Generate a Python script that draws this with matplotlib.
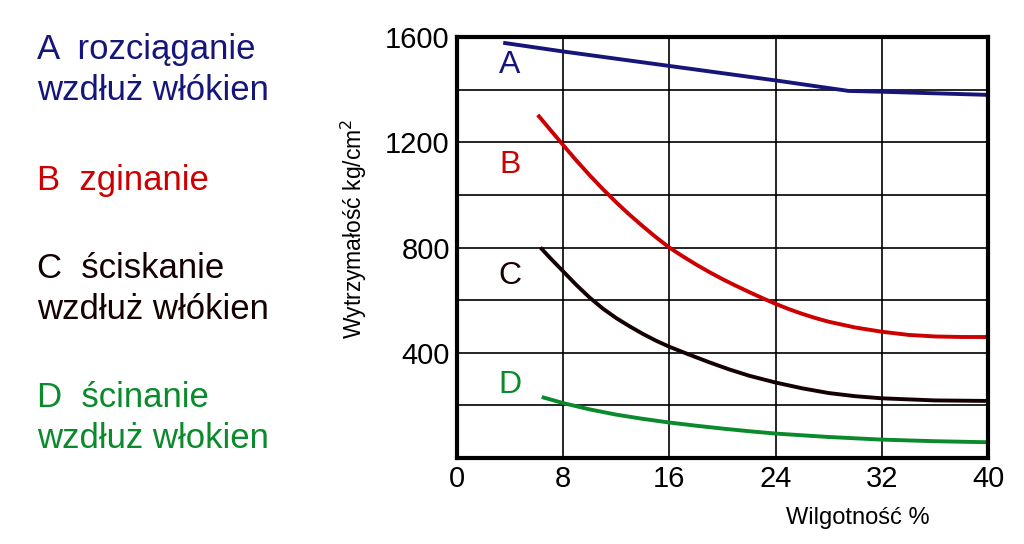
import matplotlib.pyplot as plt

plt.rcParams['font.family'] = ['Liberation Sans', 'DejaVu Sans']

# wilgotność [%] i wytrzymałość [kg/cm2]
xa = [3.5, 8, 16, 24, 29.5, 32, 36, 40]
ya = [1578, 1545, 1490, 1435, 1395, 1392, 1386, 1380]

xb = [6.1, 7, 8, 9, 10, 11, 12, 13, 14, 15, 16, 17, 18, 19, 20, 21, 22, 23, 24,
      25, 26, 27, 28, 30, 32, 34, 36, 38, 40]
yb = [1304, 1250, 1190, 1131, 1075, 1022, 972, 925, 881, 839, 800, 767, 736, 707,
      680, 655, 631, 608, 586, 566, 548, 532, 518, 496, 480, 468, 462, 460, 460]

xc = [6.3, 7, 8, 9, 10, 11, 12, 13, 14, 15, 16, 17.5, 19, 20.5, 22, 24, 26, 28,
      30, 32, 36, 40]
yc = [800, 762, 710, 658, 610, 568, 532, 501, 472, 446, 423, 393, 364, 337, 313,
      287, 265, 247, 235, 227, 219, 217]

xd = [6.4, 8, 10, 12, 14, 16, 18, 20, 22, 24, 28, 32, 36, 40]
yd = [232, 209, 185, 165, 149, 135, 123, 112, 102, 93, 80, 70, 64, 60]

series = [
    ('A', xa, ya, '#16167a', 1494, 'A  rozciąganie\nwzdłuż włókien', 0.871),
    ('B', xb, yb, '#cc0000', 1114, 'B  zginanie', 0.669),
    ('C', xc, yc, '#140000', 692, 'C  ściskanie\nwzdłuż włókien', 0.469),
    ('D', xd, yd, '#0a8a2a', 278, 'D  ścinanie\nwzdłuż włokien', 0.231),
]

fig = plt.figure(figsize=(10.24, 5.44), dpi=100)
ax = fig.add_axes([0.446, 0.158, 0.519, 0.774])

for name, x, y, col, ly, desc, fy in series:
    ax.plot(x, y, color=col, lw=2.8, solid_capstyle='butt', solid_joinstyle='round')
    ax.text(4, ly, name, color=col, fontsize=23, ha='center', va='center')
    fig.text(0.036, fy, desc, color=col, fontsize=25, ha='left', va='center',
             linespacing=1.3)

ax.set_xlim(0, 40)
ax.set_ylim(0, 1600)
ax.set_xticks([0, 8, 16, 24, 32, 40])
ax.set_yticks([200, 400, 600, 800, 1000, 1200, 1400, 1600])
ax.set_yticklabels(['', '400', '', '800', '', '1200', '', '1600'])
ax.tick_params(length=0, labelsize=21, pad=5)
ax.grid(True, color='black', lw=1.2)
ax.set_axisbelow(True)
for s in ax.spines.values():
    s.set_linewidth(3)

fig.text(0.346, 0.579, 'Wytrzymałość kg/cm$^2$', fontsize=16.5, rotation=90,
         ha='center', va='center')
fig.text(0.838, 0.048, 'Wilgotność %', fontsize=17, ha='center', va='center')

fig.savefig('out.png', dpi=100)
